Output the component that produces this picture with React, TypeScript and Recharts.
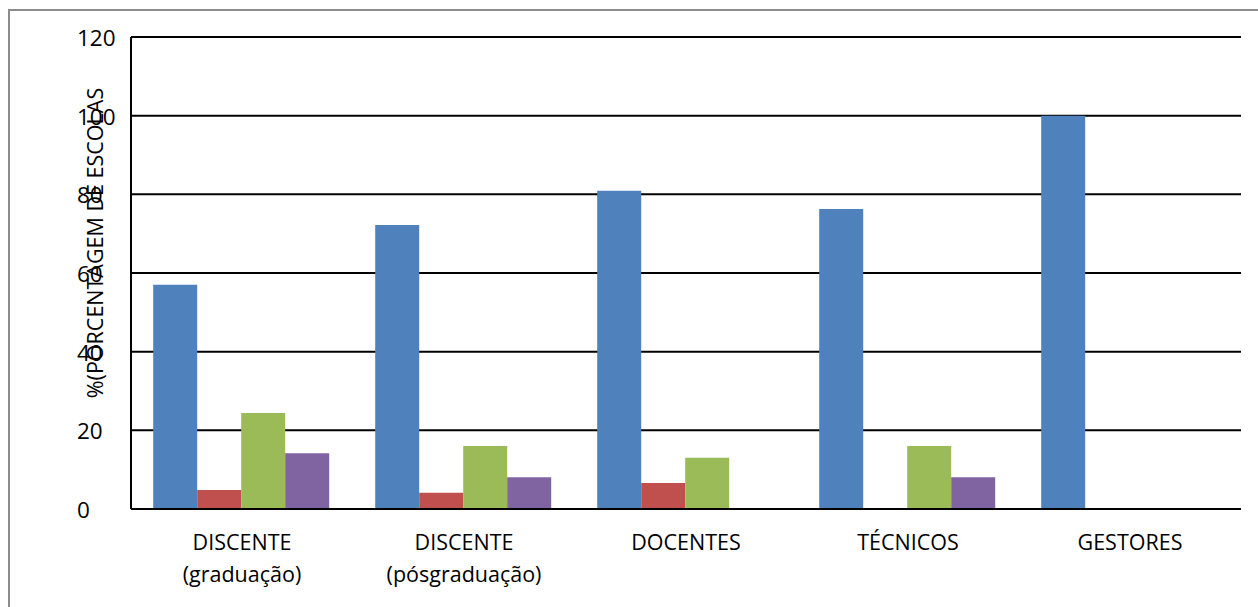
import React from 'react';
import { BarChart, Bar, XAxis, YAxis, CartesianGrid } from 'recharts';

const categories = ['DISCENTE|(graduação)', 'DISCENTE|(pósgraduação)', 'DOCENTES', 'TÉCNICOS', 'GESTORES'];
const serie1 = [57, 72.2, 80.9, 76.3, 100];
const serie2 = [4.8, 4.1, 6.6, 0, 0];
const serie3 = [24.4, 16, 13, 16, 0];
const serie4 = [14.2, 8.1, 0, 8.1, 0];
const yTicks = [0, 20, 40, 60, 80, 100, 120];
const yLabel = '%(PORCENTAGEM DE ESCOLAS';

const data = categories.map((c, i) => ({
  name: c,
  s1: serie1[i],
  s2: serie2[i],
  s3: serie3[i],
  s4: serie4[i],
}));

const FONT = '"Open Sans", Lato, sans-serif';

const XTick = (props: any) => {
  const { x, y, payload } = props;
  const lines = String(payload.value).split('|');
  return (
    <text x={x} y={y} textAnchor="middle" fontFamily={FONT} fontSize={21.5} fill="#000">
      {lines.map((l, i) => (
        <tspan key={i} x={x} dy={i === 0 ? 39 : 32}>
          {l}
        </tspan>
      ))}
    </text>
  );
};

const YTick = (props: any) => {
  const { y, payload } = props;
  return (
    <text x={77} y={y} dy={9} textAnchor="start" fontFamily={FONT} fontSize={22.5} fill="#000">
      {payload.value}
    </text>
  );
};

export default function App() {
  return (
    <div style={{ position: 'absolute', left: 0, top: 0, width: 1258, height: 607, background: '#fff' }}>
      <div
        style={{
          position: 'absolute',
          left: 8,
          top: 9,
          width: 1260,
          height: 620,
          border: '2px solid #8c8c8c',
          boxSizing: 'border-box',
        }}
      />
      <div style={{ position: 'absolute', left: 0, top: 0 }}>
        <BarChart
          width={1258}
          height={607}
          data={data}
          margin={{ top: 37, right: 17, bottom: 38, left: 0 }}
          barCategoryGap="10%"
          barGap={0}
        >
          <CartesianGrid vertical={false} stroke="#000" strokeWidth={2} />
          <XAxis
            dataKey="name"
            height={60}
            axisLine={{ stroke: '#000', strokeWidth: 2 }}
            tickLine={false}
            tickSize={0}
            tick={<XTick />}
            interval={0}
          />
          <YAxis
            width={131}
            domain={[0, 120]}
            ticks={yTicks}
            axisLine={{ stroke: '#000', strokeWidth: 2 }}
            tickLine={false}
            tickSize={0}
            tick={<YTick />}
            interval={0}
            label={{
              content: () => (
                <text
                  x={103}
                  y={243}
                  transform="rotate(-90 103 243)"
                  textAnchor="middle"
                  fontFamily={FONT}
                  fontSize={21.5}
                  fill="#000"
                >
                  {yLabel}
                </text>
              ),
            }}
          />
          <Bar dataKey="s1" fill="#4F81BD" isAnimationActive={false} />
          <Bar dataKey="s2" fill="#C0504D" isAnimationActive={false} />
          <Bar dataKey="s3" fill="#9BBB59" isAnimationActive={false} />
          <Bar dataKey="s4" fill="#8064A2" isAnimationActive={false} />
        </BarChart>
      </div>
    </div>
  );
}
